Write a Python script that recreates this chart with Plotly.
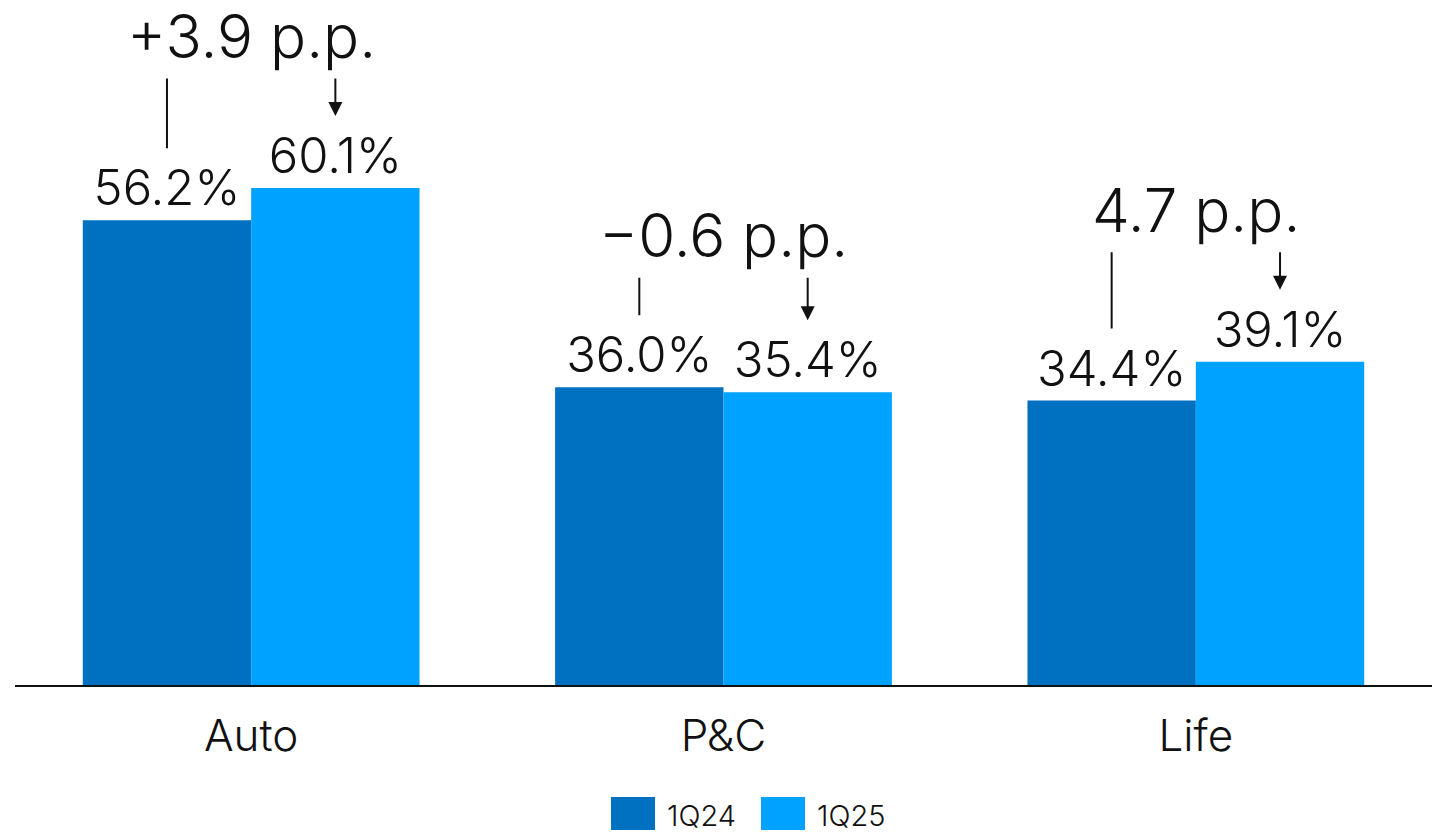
import plotly.graph_objects as go

# Data
categories = ["Auto", "P&C", "Life"]
series_names = ["1Q24", "1Q25"]
values_1q24 = [56.2, 36.0, 34.4]
values_1q25 = [60.1, 35.4, 39.1]
change_labels = ["+3.9 p.p.", "\u22120.6 p.p.", "4.7 p.p."]

# Styling
COLORS = ["#0070C0", "#00A2FF"]
FONT = "Inter"
TEXT_COLOR = "#111111"
W, H = 1440, 833
M_L, M_R, M_T, M_B = 15, 8, 0, 148
PLOT_H = H - M_T - M_B
Y_MAX = 82.83
PPU = PLOT_H / Y_MAX          # pixels per percentage point
BARGAP = 0.287
HALF = (1 - BARGAP) / 4       # offset from category centre to each bar centre

fig = go.Figure()
for name, vals, col in zip(series_names, [values_1q24, values_1q25], COLORS):
    fig.add_trace(go.Bar(
        x=categories, y=vals, name=name,
        marker=dict(color=col, line=dict(width=0)),
        texttemplate="%{y:.1f}%", textposition="outside",
        textfont=dict(family=FONT, size=49, color=TEXT_COLOR, weight=300),
        cliponaxis=False, showlegend=False,
    ))

annotations = []
for i, (v1, v2, lab) in enumerate(zip(values_1q24, values_1q25, change_labels)):
    vmax = max(v1, v2)
    # change label above the pair
    annotations.append(dict(
        x=i, y=vmax, xref="x", yref="y", text=lab, showarrow=False,
        yanchor="bottom", yshift=115, borderpad=0,
        font=dict(family=FONT, size=60, color=TEXT_COLOR, weight=300),
    ))
    # plain connector line above the 1Q24 bar
    annotations.append(dict(
        x=i - HALF, y=v1, xref="x", yref="y", text="", showarrow=True,
        arrowhead=0, arrowwidth=2, arrowcolor=TEXT_COLOR,
        ax=0, ay=-(39 + (vmax - v1) * PPU), yshift=72,
    ))
    # arrow pointing down to the 1Q25 bar
    annotations.append(dict(
        x=i + HALF, y=v2, xref="x", yref="y", text="", showarrow=True,
        arrowhead=2, arrowsize=1.4, arrowwidth=2, arrowcolor=TEXT_COLOR,
        ax=0, ay=-(39 + (vmax - v2) * PPU), yshift=72,
    ))

# Custom legend with large square swatches
plot_w = W - M_L - M_R
def px_x(p):
    return (p - M_L) / plot_w
def px_y(p):
    return (M_T + PLOT_H - p) / PLOT_H

shapes = []
legend_x = [611, 761]
for name, col, lx in zip(series_names, COLORS, legend_x):
    shapes.append(dict(
        type="rect", xref="paper", yref="paper",
        x0=px_x(lx), x1=px_x(lx + 44), y0=px_y(830), y1=px_y(797),
        fillcolor=col, line=dict(width=0),
    ))
    annotations.append(dict(
        x=px_x(lx + 54), y=px_y(815), xref="paper", yref="paper",
        text=name, showarrow=False, xanchor="left", yanchor="middle",
        font=dict(family=FONT, size=29, color=TEXT_COLOR, weight=300),
    ))

fig.update_layout(
    width=W, height=H,
    margin=dict(l=M_L, r=M_R, t=M_T, b=M_B),
    barmode="group", bargap=BARGAP, bargroupgap=0,
    plot_bgcolor="white", paper_bgcolor="white",
    font=dict(family=FONT, color=TEXT_COLOR),
    annotations=annotations, shapes=shapes,
    showlegend=False,
)
fig.update_xaxes(
    showline=True, linecolor="#111111", linewidth=2,
    ticks="", showgrid=False,
    tickfont=dict(family=FONT, size=44, color=TEXT_COLOR, weight=300),
    ticklabelstandoff=11,
)
fig.update_yaxes(
    range=[0, Y_MAX], visible=False, showgrid=False, zeroline=False,
)

fig.write_html("out.html")
